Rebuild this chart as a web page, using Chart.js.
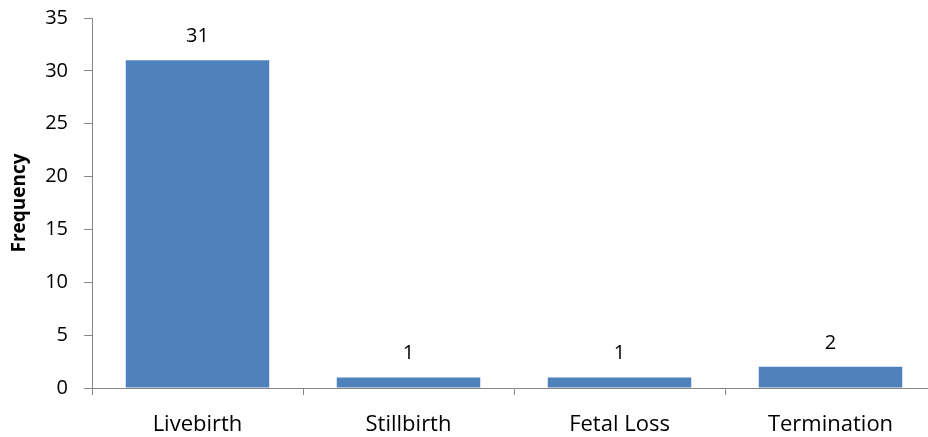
<!DOCTYPE html>
<html>
<head>
<meta charset="utf-8">
<script src="https://cdn.jsdelivr.net/npm/chart.js@4/dist/chart.umd.min.js"></script>
<style>
html, body { margin: 0; padding: 0; background: #fff; overflow: hidden; }
/* the source chart's x axis runs a few pixels past the right edge */
#wrap { width: 936px; height: 437px; }
</style>
</head>
<body>
<div id="wrap"><canvas id="myChart"></canvas></div>
<script>
var categories = ['Livebirth', 'Stillbirth', 'Fetal Loss', 'Termination'];
var frequency = [31, 1, 1, 2];
var yTicks = [0, 5, 10, 15, 20, 25, 30, 35];

var axisGray = '#868686';
var fontFam = "'Open Sans', sans-serif";

// values printed above each bar
var barLabels = {
    id: 'barLabels',
    afterDatasetsDraw: function(chart) {
        var ctx = chart.ctx;
        var meta = chart.getDatasetMeta(0);
        ctx.save();
        ctx.font = '20px ' + fontFam;
        ctx.fillStyle = '#000';
        ctx.textAlign = 'center';
        ctx.textBaseline = 'alphabetic';
        meta.data.forEach(function(bar, i) {
            ctx.fillText(frequency[i], bar.x, bar.y - 18);
        });
        ctx.restore();
    }
};

var ctx = document.getElementById('myChart').getContext('2d');
var chart = new Chart(ctx, {
    type: 'bar',
    data: {
        labels: categories,
        datasets: [{
            data: frequency,
            backgroundColor: '#4F81BD',
            borderWidth: 0,
            categoryPercentage: 0.68,
            barPercentage: 1
        }]
    },
    options: {
        responsive: true,
        maintainAspectRatio: false,
        animation: false,
        layout: { padding: { top: 18, right: 0, left: 0, bottom: 0 } },
        plugins: {
            legend: { display: false },
            tooltip: { enabled: false }
        },
        scales: {
            x: {
                offset: true,
                afterFit: function(axis) {
                    axis.height = 49;
                    axis.paddingLeft = 0;
                    axis.paddingRight = 0;
                },
                grid: {
                    offset: true,
                    drawOnChartArea: false,
                    drawTicks: true,
                    tickLength: 7,
                    color: axisGray
                },
                border: { color: axisGray, width: 1 },
                ticks: {
                    color: '#000',
                    font: { family: fontFam, size: 22 },
                    padding: 17
                }
            },
            y: {
                min: 0,
                max: 35,
                afterFit: function(axis) {
                    axis.width = 92;
                    axis.paddingTop = 0;
                    axis.paddingBottom = 0;
                },
                afterBuildTicks: function(axis) {
                    axis.ticks = yTicks.map(function(v) { return { value: v }; });
                },
                grid: {
                    drawOnChartArea: false,
                    drawTicks: true,
                    tickLength: 8,
                    color: axisGray
                },
                border: { color: axisGray, width: 1 },
                ticks: {
                    color: '#000',
                    font: { family: fontFam, size: 20 },
                    padding: 16
                },
                title: {
                    display: true,
                    text: 'Frequency',
                    color: '#000',
                    font: { family: fontFam, size: 19, weight: 'bold' },
                    padding: { top: 8, bottom: 0 }
                }
            }
        }
    },
    plugins: [barLabels]
});
</script>
</body>
</html>
